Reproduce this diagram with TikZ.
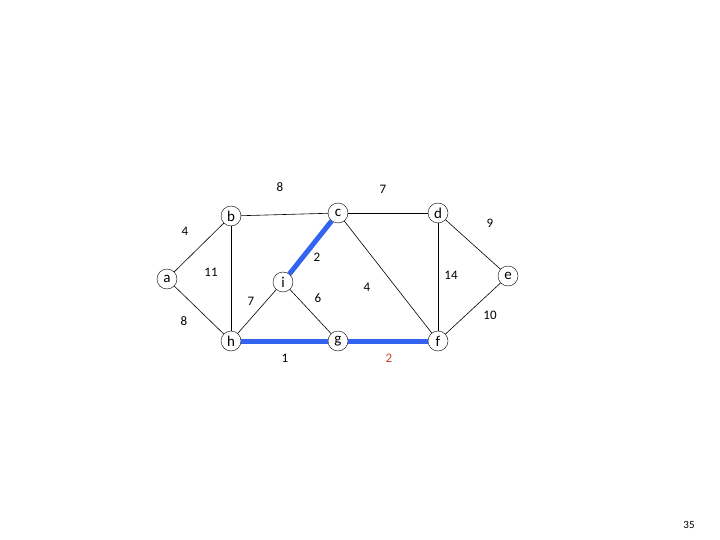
\documentclass[tikz,border=0pt]{standalone}
\usepackage{fontspec}
\setmainfont{Carlito}
\begin{document}
\begin{tikzpicture}[x=1pt,y=-1pt,
  vert/.style={circle,draw,fill=white,minimum size=20pt,inner sep=0pt,font=\fontsize{15}{15}\selectfont},
  wt/.style={font=\fontsize{13}{13}\selectfont},
  edge/.style={line width=0.6pt},
  mst/.style={line width=5pt,draw={rgb,255:red,50;green,100;blue,240}}]
\useasboundingbox (0,0) rectangle (720,540);
\node[vert] (a) at (167,279) {a};
\node[vert] (b) at (231,216) {b};
\node[vert] (c) at (338,213) {c};
\node[vert] (d) at (438,213) {d};
\node[vert] (e) at (508,276) {e};
\node[vert] (i) at (283,282) {i};
\node[vert] (h) at (231,341) {h};
\node[vert] (g) at (338,341) {g};
\node[vert] (f) at (438,341) {f};
\draw[edge] (a) -- (b);
\draw[edge] (a) -- (h);
\draw[edge] (b) -- (c);
\draw[edge] (b) -- (h);
\draw[edge] (c) -- (d);
\draw[edge] (c) -- (f);
\draw[edge] (d) -- (e);
\draw[edge] (d) -- (f);
\draw[edge] (e) -- (f);
\draw[edge] (i) -- (h);
\draw[edge] (i) -- (g);
\draw[mst] (c) -- (i);
\draw[mst] (h) -- (g);
\draw[mst] (g) -- (f);
\node[wt] (w1) at (280,187) {8};
\node[wt] (w2) at (383,189) {7};
\node[wt] (w3) at (185,231) {4};
\node[wt] (w4) at (490,223) {9};
\node[wt] (w5) at (317,257) {2};
\node[wt] (w6) at (211,272) {11};
\node[wt] (w7) at (451,275) {14};
\node[wt] (w8) at (367,287) {4};
\node[wt] (w9) at (318,298) {6};
\node[wt] (w10) at (251,301) {7};
\node[wt] (w11) at (184,321) {8};
\node[wt] (w12) at (490,315) {10};
\node[wt] (w13) at (285,358) {1};
\node[wt,text={rgb,255:red,200;green,70;blue,40}] (w14) at (389,358) {2};
\node[font=\fontsize{11}{11}\selectfont] (pg) at (689,525) {35};
\end{tikzpicture}
\end{document}
